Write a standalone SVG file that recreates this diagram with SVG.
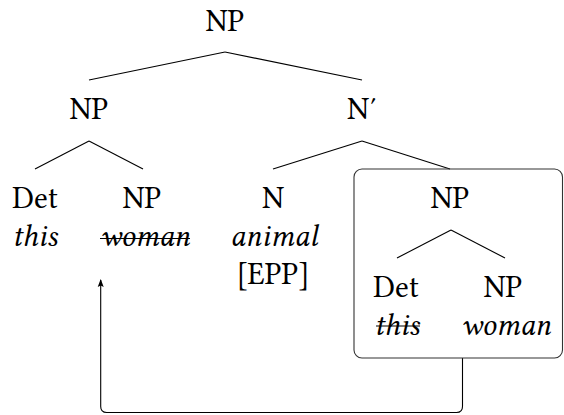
<svg xmlns="http://www.w3.org/2000/svg" width="564" height="415" viewBox="0 0 564 415">
<style>
.t{font-family:"Libertinus Serif","Linux Libertine O","Liberation Serif","Tinos","Noto Serif","FreeSerif","Nimbus Roman","DejaVu Serif","Times New Roman",Times,serif;font-size:31px;fill:#000;text-anchor:middle}
.it{font-style:italic}
.strike{stroke:#000;stroke-width:1.1}
.edge{stroke:#000;stroke-width:1.1;fill:none}
.box{stroke:#333;stroke-width:1.1;fill:none}
</style>
<defs>
<marker id="ah" markerWidth="8" markerHeight="8" refX="7" refY="4" orient="auto" markerUnits="userSpaceOnUse" viewBox="0 0 8 8">
<path d="M8,4 L0,1 L1.5,4 L0,7 Z" fill="#000"/>
</marker>
</defs>
<g id="connectors">
<line class="edge" x1="225" y1="52" x2="89" y2="80"/>
<line class="edge" x1="225" y1="52" x2="362" y2="80"/>
<line class="edge" x1="89" y1="141" x2="35" y2="169"/>
<line class="edge" x1="89" y1="141" x2="143" y2="169"/>
<line class="edge" x1="362" y1="141" x2="273" y2="169"/>
<line class="edge" x1="362" y1="141" x2="450" y2="169"/>
<line class="edge" x1="451" y1="230" x2="397" y2="258"/>
<line class="edge" x1="451" y1="230" x2="505" y2="258"/>
<path class="edge" d="M462.5,358 V406.5 Q462.5,412.5 456.5,412.5 H106.7 Q100.7,412.5 100.7,406.5 V280" marker-end="url(#ah)"/>
</g>
<g id="np-root"><text class="t" x="225" y="31">NP</text></g>
<g id="np-left"><text class="t" x="89" y="119">NP</text></g>
<g id="nbar"><text class="t" x="362" y="119">N′</text></g>
<g id="det-left"><text class="t" x="35" y="208">Det</text><text class="t it" x="35" y="246">this</text></g>
<g id="np-left-child"><text class="t" x="142" y="208">NP</text><text class="t it" x="145" y="246">woman</text><line class="strike" x1="100" y1="238.5" x2="190" y2="238.5"/></g>
<g id="n-head"><text class="t" x="273" y="208">N</text><text class="t it" x="274" y="246">animal</text><text class="t" x="273" y="284">[EPP]</text></g>
<g id="np-box">
<rect class="box" x="354" y="169" width="208.5" height="189" rx="8"/>
<text class="t" x="450" y="208">NP</text>
</g>
<g id="det-box"><text class="t" x="396" y="297">Det</text><text class="t it" x="397" y="335">this</text><line class="strike" x1="376" y1="326" x2="420" y2="326"/></g>
<g id="np-box-child"><text class="t" x="503" y="297">NP</text><text class="t it" x="506" y="335">woman</text></g>
</svg>
